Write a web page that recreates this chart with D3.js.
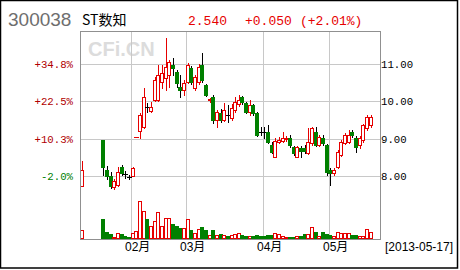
<!DOCTYPE html>
<html><head><meta charset="utf-8">
<script src="https://cdn.jsdelivr.net/npm/d3@7/dist/d3.min.js"></script>
<style>html,body{margin:0;padding:0;background:#fff;}svg{display:block;}</style>
</head><body><svg id="c" width="460" height="270"></svg>
<script>
const stockCode = "300038";
const stockName = "ST数知";
const lastPrice = 2.540, priceChange = 0.050, changePct = 2.01;
const asOfDate = "2013-05-17";
const watermark = "CFi.CN";

const dates = [
 "01-14","01-15","01-16","01-17","01-18","01-21","01-22","01-23","01-24","01-25","01-28","01-29","01-30","01-31",
 "02-01","02-04","02-05","02-06","02-07","02-08","02-18","02-19","02-20","02-21","02-22","02-25","02-26","02-27","02-28",
 "03-01","03-04","03-05","03-06","03-07","03-08","03-11","03-12","03-13","03-14","03-15","03-18","03-19","03-20","03-21","03-22","03-25","03-26","03-27","03-28","03-29",
 "04-01","04-02","04-03","04-08","04-09","04-10","04-11","04-12","04-15","04-16","04-17","04-18","04-19","04-22","04-23","04-24","04-25","04-26",
 "05-02","05-03","05-06","05-07","05-08","05-09","05-10","05-13","05-14","05-15","05-16","05-17"];

const opens = [7.73,null,null,null,null,null,8.96,8.16,8.00,7.71,7.76,8.24,8.05,7.97,
 8.00,9.04,9.20,9.31,9.85,9.74,10.04,10.04,10.52,10.63,10.71,10.97,10.79,10.38,10.30,
 10.52,10.89,10.36,10.52,10.97,10.44,10.04,10.12,9.50,9.69,9.50,9.63,9.55,9.77,9.93,10.12,9.96,9.71,9.90,9.69,9.18,
 9.18,9.18,8.83,8.51,8.91,8.94,8.99,9.02,8.78,8.51,8.75,8.75,8.62,8.88,9.18,8.83,9.02,8.83,
 8.16,8.08,8.24,8.56,8.88,8.91,9.18,9.02,8.83,8.96,9.29,9.37];
const highs = [8.40,null,null,null,null,null,8.96,8.27,8.11,7.92,8.24,8.29,8.13,8.03,
 8.24,9.04,9.69,10.36,9.96,9.98,10.65,10.97,10.97,11.70,11.11,11.16,10.84,10.71,10.57,
 11.03,10.95,10.71,11.00,11.29,10.46,10.09,10.17,9.77,9.79,9.96,9.90,9.93,10.12,10.17,10.14,9.98,10.04,9.93,9.71,9.31,
 9.31,9.37,8.91,9.02,9.04,9.18,9.07,9.10,8.80,8.80,8.80,8.83,9.29,9.31,9.31,9.10,9.10,8.86,
 8.21,8.21,8.70,8.96,9.15,9.23,9.23,9.07,9.07,9.39,9.63,9.63];
const lows = [7.73,null,null,null,null,null,8.03,7.92,7.68,7.65,7.73,8.03,7.95,7.92,
 8.00,9.04,9.02,9.29,9.71,9.71,10.01,10.01,10.36,10.30,10.38,10.71,10.38,10.12,10.17,
 10.49,10.46,10.30,10.46,10.52,10.14,9.98,9.42,9.31,9.45,9.47,9.45,9.50,9.71,9.88,9.93,9.69,9.63,9.63,9.07,9.10,
 9.02,8.88,8.62,8.51,8.88,8.91,8.94,8.78,8.56,8.51,8.51,8.62,8.59,8.83,8.80,8.80,8.83,8.03,
 7.76,8.03,8.21,8.54,8.86,8.88,9.04,8.64,8.75,8.91,9.23,9.31];
const closes = [8.16,null,null,null,null,null,8.25,8.00,7.73,7.87,8.11,8.08,8.05,7.97,
 8.21,9.04,9.63,10.12,9.85,9.85,10.57,10.71,10.76,10.92,11.05,10.89,10.49,10.30,10.49,
 10.97,10.52,10.65,10.92,10.57,10.17,10.06,9.50,9.71,9.50,9.77,9.63,9.82,9.98,10.04,9.98,9.71,9.90,9.69,9.10,9.18,
 9.18,8.91,8.64,8.94,8.96,9.02,9.02,8.83,8.62,8.78,8.67,8.67,8.91,9.29,8.83,9.04,8.88,8.11,
 8.08,8.16,8.64,8.91,9.10,9.10,9.10,8.78,9.02,9.37,9.58,9.58];
const volumes = [9,null,null,null,null,null,20,7,5,2.3,6,5,3.3,2.3,
 6,8,38,28,20,13.3,18,27.3,13.3,21.3,20.7,14.7,13.3,11,11,
 20,9,6,10,12.3,9,4,9,4,5,4,3.3,4,5,6,4,3.3,3.3,3.3,4,3.3,
 3.3,4,4,6,5,3.3,2,2,2,2.7,2.7,5,5,12,7.3,3.3,7,5,
 4,3.3,7,6,6,6,4,4,3.3,3,10,7.3];
const priceTicks = [8, 9, 10, 11];

const RED = "#e60000", GREEN = "#008000", DARKRED = "#b00000";
const svg = d3.select("#c");
const L = 80, R = 380, T = 31, B = 239;

const x = d3.scaleBand().domain(dates).range([L, R]).paddingInner(0).paddingOuter(1).align(0);
const y = d3.scaleLinear().domain([8, 11]).range([176, 64]);
const yv = d3.scaleLinear().domain([0, 40]).range([B, B - 40]);
const base = closes[0];
const crisp = v => Math.round(v) + 0.5;

// outer border
svg.append("rect").attr("x", 0.5).attr("y", 0.5).attr("width", 457).attr("height", 267.5)
  .attr("fill", "none").attr("stroke", "#000").attr("stroke-width", 1.5);

// header
svg.append("text").attr("x", 8).attr("y", 26).text(stockCode)
  .attr("font-family", "Liberation Sans, Arial, sans-serif").attr("font-size", 19).attr("fill", "#6e6e6e");
svg.append("text").attr("x", 82).attr("y", 25).text(stockName)
  .attr("font-family", "Noto Sans CJK SC, sans-serif").attr("font-size", 14).attr("fill", "#000");
const hdr = [[188, lastPrice.toFixed(3)], [245, "+" + priceChange.toFixed(3)], [300, "(+" + changePct.toFixed(2) + "%)"]];
svg.selectAll("text.hdr").data(hdr).enter().append("text").attr("class", "hdr")
  .attr("x", d => d[0]).attr("y", 25).text(d => d[1])
  .attr("font-family", "Liberation Mono, DejaVu Sans Mono, monospace").attr("font-size", 13).attr("fill", RED);

// watermark
svg.append("text").attr("x", 88).attr("y", 56).text(watermark)
  .attr("font-family", "Liberation Sans, Arial, sans-serif").attr("font-weight", "bold")
  .attr("font-size", 20).attr("fill", "#dcdcdc");

// grid
const monthStarts = dates.filter((d, i) => i > 0 && d.slice(0, 2) !== dates[i - 1].slice(0, 2));
const grid = svg.append("g");
grid.selectAll("line.h").data(priceTicks).enter().append("line")
  .attr("x1", L).attr("x2", R).attr("y1", d => crisp(y(d))).attr("y2", d => crisp(y(d)))
  .attr("stroke", "#c8c8c8");
grid.selectAll("line.v").data(monthStarts).enter().append("line")
  .attr("y1", T).attr("y2", B).attr("x1", d => crisp(x(d))).attr("x2", d => crisp(x(d)))
  .attr("stroke", "#c8c8c8");

// candles
const idx = d3.range(dates.length).filter(i => opens[i] != null);
const cg = svg.append("g");
idx.forEach(i => {
  const o = opens[i], h = highs[i], l = lows[i], c = closes[i];
  const x0 = Math.floor(x(dates[i]));
  const up = c > o, down = c < o;
  let col;
  if (up) col = RED; else if (down) col = GREEN;
  else col = (h === l) ? (c >= closes[i - 1] ? RED : GREEN) : "#000";
  const wickCol = up ? RED : "#000";
  cg.append("line").attr("x1", x0 + 2.5).attr("x2", x0 + 2.5)
    .attr("y1", Math.round(y(h))).attr("y2", Math.round(y(l)) + 1).attr("stroke", wickCol);
  if (up || down) {
    const yt = Math.round(y(Math.max(o, c))), yb = Math.round(y(Math.min(o, c)));
    cg.append("rect").attr("x", x0 + 0.5).attr("y", yt + 0.5).attr("width", 3)
      .attr("height", Math.max(1, yb - yt))
      .attr("fill", up ? "#fff" : GREEN).attr("stroke", col);
  } else {
    cg.append("line").attr("x1", x0).attr("x2", x0 + 5)
      .attr("y1", crisp(y(o))).attr("y2", crisp(y(o))).attr("stroke", col);
  }
});

// volume
const vg = svg.append("g");
idx.forEach(i => {
  const o = opens[i], h = highs[i], l = lows[i], c = closes[i];
  const vUp = c > o || (c === o && h === l && c >= closes[i - 1]);
  const x0 = Math.floor(x(dates[i]));
  const yt = Math.round(yv(volumes[i]));
  vg.append("rect").attr("x", x0 + 0.5).attr("y", yt + 0.5).attr("width", 3)
    .attr("height", Math.max(1, B - yt - 1))
    .attr("fill", vUp ? "#fff" : GREEN).attr("stroke", vUp ? RED : GREEN);
});

// frame
svg.append("rect").attr("x", L + 0.5).attr("y", T + 0.5).attr("width", R - L).attr("height", B - T)
  .attr("fill", "none").attr("stroke", "#909090");

// left percentage axis
const la = svg.append("g").attr("transform", `translate(${L},0)`)
  .call(d3.axisLeft(y).tickValues(priceTicks).tickSize(0).tickPadding(7)
    .tickFormat(p => { const v = (p - base) / base * 100; return (v >= 0 ? "+" : "") + v.toFixed(1) + "%"; }));
la.select(".domain").remove();
la.selectAll("text").attr("font-family", "Liberation Mono, DejaVu Sans Mono, monospace").attr("font-size", 10.7)
  .attr("fill", p => p >= base ? DARKRED : GREEN);

// right price axis
const ra = svg.append("g").attr("transform", `translate(${R},0)`)
  .call(d3.axisRight(y).tickValues(priceTicks).tickSize(0).tickPadding(1).tickFormat(d3.format(".2f")));
ra.select(".domain").remove();
ra.selectAll("text").attr("font-family", "Liberation Mono, DejaVu Sans Mono, monospace").attr("font-size", 10.7).attr("fill", "#000");

// month labels
svg.selectAll("text.mon").data(monthStarts).enter().append("text").attr("class", "mon")
  .attr("x", d => Math.round(x(d)) - 6).attr("y", 251).text(d => d.slice(0, 2) + "月")
  .attr("font-family", "Liberation Sans, Noto Sans CJK SC, sans-serif").attr("font-size", 12).attr("fill", "#000");
svg.append("text").attr("x", 385).attr("y", 251).text("[" + asOfDate + "]")
  .attr("font-family", "Liberation Sans, Arial, sans-serif").attr("font-size", 12).attr("fill", "#000");
</script></body></html>
